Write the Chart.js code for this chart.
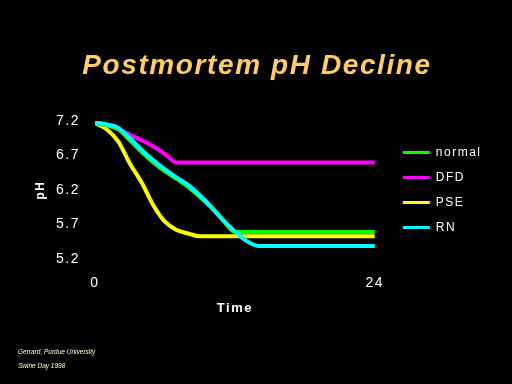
<!DOCTYPE html>
<html lang="en">
<head>
    <meta charset="UTF-8">
    <title>Postmortem pH Decline</title>
    <script src="https://cdn.jsdelivr.net/npm/chart.js"></script>
    <style>
        body { margin: 0; background: #000; }
        .wrap { position: relative; width: 512px; height: 384px; background: #000; overflow: hidden; }
        .wrap canvas { position: absolute; left: 0; top: 0; }
        .title {
            position: absolute; left: 0; top: 48px; width: 514px; text-align: center;
            font: italic bold 28px "Liberation Sans", Arial, sans-serif; line-height: 34px;
            letter-spacing: 1.6px; color: #ffcc66;
        }
        .note {
            position: absolute; left: 18px; font: italic 6.5px "Liberation Sans", Arial, sans-serif;
            color: #ffffcc; white-space: nowrap;
        }
    </style>
</head>
<body>
    <div class="wrap">
        <canvas id="chart" width="512" height="384"></canvas>
        <div class="title">Postmortem pH Decline</div>
        <div class="note" style="top: 348px;">Gerrard, Purdue University</div>
        <div class="note" style="top: 362px;">Swine Day 1998</div>
    </div>

    <script>
        // hours after slaughter
        const hours = [0, 1, 2, 3, 4, 5, 6, 7, 8, 9, 10, 11, 12, 13, 14, 24];
        const normalPH = [7.17, 7.14, 7.08, 6.92, 6.75, 6.60, 6.47, 6.36, 6.24, 6.10, 5.94, 5.76, 5.59, 5.59, 5.59, 5.59];
        const dfdPH    = [7.17, 7.14, 7.08, 7.00, 6.92, 6.83, 6.72, 6.60, 6.60, 6.60, 6.60, 6.60, 6.60, 6.60, 6.60, 6.60];
        const psePH    = [7.17, 7.08, 6.90, 6.58, 6.31, 5.98, 5.74, 5.62, 5.57, 5.53, 5.53, 5.53, 5.53, 5.53, 5.53, 5.53];
        const rnPH     = [7.18, 7.15, 7.10, 6.95, 6.78, 6.63, 6.50, 6.38, 6.27, 6.12, 5.95, 5.76, 5.60, 5.46, 5.39, 5.39];
        const seriesNames = ['normal', 'DFD', 'PSE', 'RN'];
        const seriesColors = ['#00ff00', '#ff00ff', '#ffff00', '#00ffff'];
        const yTicks = [5.2, 5.7, 6.2, 6.7, 7.2];
        const xTicks = [0, 24];

        const seriesValues = [normalPH, dfdPH, psePH, rnPH];
        const drawOrder = [1, 2, 3, 0]; // cyan on top

        const datasets = seriesValues.map((vals, i) => ({
            label: seriesNames[i],
            data: hours.map((h, j) => ({ x: h, y: vals[j] })),
            borderColor: seriesColors[i],
            backgroundColor: seriesColors[i],
            borderWidth: 4,
            pointRadius: 0,
            cubicInterpolationMode: 'monotone',
            order: drawOrder[i]
        }));

        // the old slide has spaced-out lettering
        const spacing = {
            id: 'spacing',
            beforeLayout(chart) { chart.ctx.letterSpacing = '1.5px'; },
            beforeDraw(chart) { chart.ctx.letterSpacing = '1.5px'; }
        };

        new Chart(document.getElementById('chart'), {
            type: 'line',
            data: { datasets },
            plugins: [spacing],
            options: {
                responsive: false,
                animation: false,
                layout: { padding: { top: 121, bottom: 68, left: 30, right: 7 } },
                plugins: {
                    tooltip: { enabled: false },
                    legend: {
                        position: 'right',
                        fullSize: false,
                        maxWidth: 120,
                        labels: {
                            color: '#ffffff',
                            font: { family: '"Liberation Sans", Arial, sans-serif', size: 12 },
                            boxWidth: 27,
                            boxHeight: 3,
                            padding: 13,
                            // em space at the end leaves room for the letter spacing
                            generateLabels: chart => chart.data.datasets.map((ds, i) => ({
                                text: ds.label + '\u2003',
                                fillStyle: ds.borderColor,
                                strokeStyle: ds.borderColor,
                                lineWidth: 0,
                                fontColor: '#ffffff',
                                datasetIndex: i
                            }))
                        }
                    }
                },
                scales: {
                    x: {
                        type: 'linear',
                        min: 0,
                        max: 24,
                        grid: { display: false, drawTicks: false },
                        border: { display: false },
                        afterBuildTicks: s => { s.ticks = xTicks.map(v => ({ value: v })); },
                        afterFit: s => { s.height = 57; },
                        ticks: {
                            color: '#ffffff',
                            padding: 16,
                            maxRotation: 0,
                            font: { family: '"Liberation Sans", Arial, sans-serif', size: 14 }
                        },
                        title: {
                            display: true,
                            text: 'Time',
                            color: '#ffffff',
                            padding: { top: 10, bottom: 0 },
                            font: { family: '"Liberation Sans", Arial, sans-serif', size: 13, weight: 'bold' }
                        }
                    },
                    y: {
                        min: 5.2,
                        max: 7.2,
                        grid: { display: false, drawTicks: false },
                        border: { display: false },
                        afterBuildTicks: s => { s.ticks = yTicks.map(v => ({ value: v })); },
                        afterFit: s => { s.width = 65; },
                        ticks: {
                            color: '#ffffff',
                            padding: 15,
                            callback: v => v.toFixed(1),
                            font: { family: '"Liberation Sans", Arial, sans-serif', size: 14 }
                        },
                        title: {
                            display: true,
                            text: 'pH',
                            color: '#ffffff',
                            padding: { top: 3, bottom: 0 },
                            font: { family: '"Liberation Sans", Arial, sans-serif', size: 12, weight: 'bold' }
                        }
                    },
                    gap: {
                        position: 'right',
                        display: true,
                        grid: { display: false, drawTicks: false },
                        border: { display: false },
                        ticks: { display: false },
                        afterFit: s => { s.width = 15; }
                    }
                }
            }
        });
    </script>
</body>
</html>
